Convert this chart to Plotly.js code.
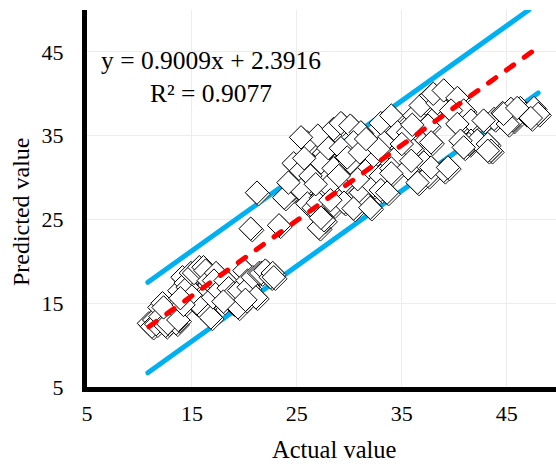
<!DOCTYPE html>
<html>
<head>
<meta charset="utf-8">
<script src="https://cdn.plot.ly/plotly-3.0.1.min.js"></script>
<style>
html,body{margin:0;padding:0;background:#fff;}
#chart{width:556px;height:468px;}
#chart .scatterlayer .js-line{stroke-linecap:round;}
</style>
</head>
<body>
<div id="chart"></div>
<script>
const actualX = [
  10.9,11.4,11.2,11.6,11.9,12.2,12.0,12.8,12.5,13.5,13.2,12.7,13.7,13.8,14.1,14.4,14.6,14.9,15.2,15.4,
  15.0,15.7,16.1,16.3,16.6,16.1,15.9,16.6,16.8,17.0,17.3,17.1,17.6,18.2,18.5,18.9,19.0,19.4,19.5,20.0,
  20.3,20.4,20.8,21.4,21.6,22.0,22.5,22.7,22.8,21.1,20.1,12.3,14.2,13.9,18.0,
  21.2,20.6,23.3,24.7,25.4,24.6,23.8,25.4,26.0,26.6,27.1,27.6,26.3,27.6,27.3,27.3,
  26.0,27.0,27.3,26.3,28.0,28.5,29.2,30.1,31.1,30.4,29.2,28.5,29.5,28.0,27.0,28.5,29.5,31.1,31.8,32.3,
  31.8,33.0,32.3,33.3,33.0,34.0,34.6,34.6,34.0,35.6,35.9,35.6,36.2,36.8,37.8,38.4,37.5,37.8,37.1,37.5,
  36.5,30.4,30.1,25.7,38.0,39.0,40.3,40.9,39.7,41.6,40.3,40.9,41.6,32.0,33.0,35.9,34.0,28.2,27.3,
  39.0,37.8,29.8,31.0,32.8,30.8,33.6,35.0,36.0,31.6,29.0,26.8,25.4,24.2,
  43.8,44.6,45.4,45.6,46.3,46.8,47.6,48.0,47.3,42.8,45.1,44.7,46.0,41.4,42.2,43.2,43.5,40.6,40.9,43.2,39.4
];
const predictedY = [
  12.6,13.0,12.2,12.5,14.5,15.0,13.4,13.0,12.3,12.6,14.2,12.6,13.0,16.5,18.1,17.4,16.9,18.6,18.6,15.0,
  15.8,19.3,19.3,18.9,17.7,14.5,14.5,13.6,13.3,15.7,18.6,17.7,16.5,17.7,16.8,15.0,16.2,14.5,16.5,18.9,
  17.7,16.9,18.1,18.6,18.6,18.9,18.1,18.6,18.1,15.7,15.4,14.5,14.8,15.6,15.2,
  28.2,23.9,24.3,31.7,30.8,28.5,27.6,28.5,26.9,26.4,24.0,24.9,34.0,32.9,30.5,27.6,
  34.2,35.0,31.8,30.2,33.5,35.8,36.5,36.2,35.4,34.2,33.5,31.1,29.4,29.0,27.0,26.7,27.0,28.2,26.7,29.0,
  31.1,30.2,32.6,34.2,36.5,37.4,35.4,32.6,31.1,31.1,33.5,35.4,37.4,38.6,39.8,38.9,36.2,34.2,31.8,30.2,
  29.4,26.3,31.8,32.3,40.0,40.4,39.5,38.0,38.0,36.8,36.4,34.0,34.4,26.4,28.5,32.0,30.5,27.3,25.2,
  30.8,31.2,32.4,33.0,33.4,29.8,28.2,34.0,36.3,34.6,30.2,29.2,34.8,29.4,
  37.0,37.7,38.2,36.8,38.3,37.6,38.3,37.6,37.1,36.8,36.4,37.6,38.3,34.0,34.4,34.0,33.2,34.4,33.6,33.2,31.2
];
// Fitted trend line and band lines (end points)
const trendX = [10.9, 47.5];
const trendY = [12.2, 45.1];
const upperX = [10.8, 47.1];
const upperY = [17.5, 50.0];
const lowerX = [10.8, 48.0];
const lowerY = [6.7, 40.1];
const tickVals = [5, 15, 25, 35, 45];
const tickText = ['5', '15', '25', '35', '45'];
const equationText = 'y = 0.9009x + 2.3916<br>R² = 0.9077';
const xTitle = 'Actual value';
const yTitle = 'Predicted value';

const FONT = '"Liberation Serif", "Times New Roman", serif';
const blue = '#00b0f0';
const xRange = [5, 49.7];
const yRange = [5, 50];
// marker drop-shadow: overlay axes shifted by ~1.6 px
const sx = 1.6 / 10.5, sy = 1.6 / 8.38;

const traces = [
  {x: upperX, y: upperY, mode: 'lines', line: {color: blue, width: 5}, hoverinfo: 'skip'},
  {x: lowerX, y: lowerY, mode: 'lines', line: {color: blue, width: 5}, hoverinfo: 'skip'},
  {x: actualX, y: predictedY, mode: 'markers', xaxis: 'x2', yaxis: 'y2', hoverinfo: 'skip',
   marker: {symbol: 'diamond', size: 18, color: '#ffffff', line: {color: '#222222', width: 1}}},
  {x: actualX, y: predictedY, mode: 'markers', xaxis: 'x3', yaxis: 'y3',
   marker: {symbol: 'diamond', size: 18, color: '#ffffff', line: {color: '#000000', width: 1}}},
  {x: trendX, y: trendY, mode: 'lines', xaxis: 'x3', yaxis: 'y3',
   line: {color: '#ff0000', width: 5, dash: '9px,13px'}, hoverinfo: 'skip'}
];

const axisCommon = {
  showline: true, linecolor: '#000000', linewidth: 5, mirror: false,
  showgrid: true, gridcolor: '#ececec', gridwidth: 1,
  zeroline: false, ticks: '', tickmode: 'array', tickvals: tickVals, ticktext: tickText,
  tickfont: {family: FONT, size: 22, color: '#000000'}
};
const hidden = {visible: false, showgrid: false, zeroline: false};

const layout = {
  width: 556, height: 468,
  margin: {l: 87, r: 0, t: 10, b: 81, pad: 0},
  paper_bgcolor: '#ffffff', plot_bgcolor: '#ffffff',
  showlegend: false,
  font: {family: FONT, color: '#000000'},
  xaxis: Object.assign({}, axisCommon, {range: xRange, ticklabelstandoff: 3}),
  yaxis: Object.assign({}, axisCommon, {range: yRange, ticklabelstandoff: 14}),
  xaxis2: Object.assign({overlaying: 'x', range: [xRange[0] - sx, xRange[1] - sx]}, hidden),
  yaxis2: Object.assign({overlaying: 'y', range: [yRange[0] + sy, yRange[1] + sy]}, hidden),
  xaxis3: Object.assign({overlaying: 'x', range: xRange}, hidden),
  yaxis3: Object.assign({overlaying: 'y', range: yRange}, hidden),
  annotations: [
    {xref: 'paper', yref: 'paper', x: 0.264, y: 0.822, xanchor: 'center', yanchor: 'middle', align: 'center',
     text: equationText, showarrow: false, font: {family: FONT, size: 25.5, color: '#000'}},
    {xref: 'paper', yref: 'paper', x: 0.528, y: -0.167, xanchor: 'center', yanchor: 'middle',
     text: xTitle, showarrow: false, font: {family: FONT, size: 24.5, color: '#000'}},
    {xref: 'paper', yref: 'paper', x: -0.142, y: 0.465, xanchor: 'center', yanchor: 'middle',
     text: yTitle, textangle: -90, showarrow: false, font: {family: FONT, size: 24, color: '#000'}}
  ]
};

Plotly.newPlot('chart', traces, layout, {staticPlot: true, displayModeBar: false});
</script>
</body>
</html>
